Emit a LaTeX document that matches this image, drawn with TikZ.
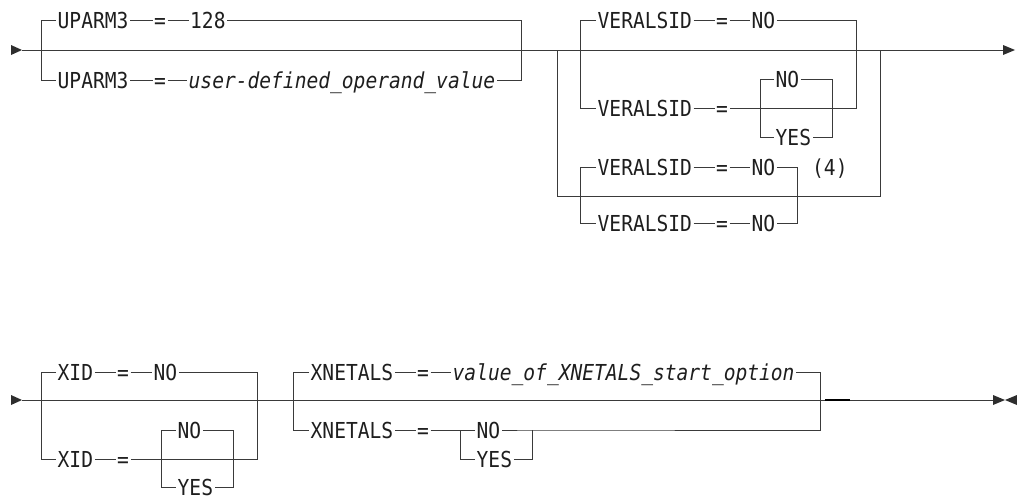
\documentclass[tikz,border=0pt]{standalone}
\usepackage{fontspec}
\newfontfamily\dmono[FakeStretch=0.89]{DejaVu Sans Mono}
\definecolor{ln}{RGB}{58,58,58}
\definecolor{txt}{RGB}{30,30,30}
\tikzset{
  lbl/.style={font=\dmono\fontsize{22}{24}\selectfont, inner xsep=1.5pt, inner ysep=0pt,
    text height=16pt, text depth=0pt, anchor=west, text=txt},
  ital/.style={lbl, font=\dmono\itshape\fontsize{22}{24}\selectfont},
  rail/.style={draw=ln, line width=0.85pt},
  tipfill/.style={fill=ln!80!black}
}
\begin{document}
\begin{tikzpicture}[x=1pt,y=-1pt]
\useasboundingbox (0,0) rectangle (1017,498);

% ---------------- Row 1 ----------------
\coordinate (s1) at (22,50);
\coordinate (e1) at (1003,50);
\fill[tipfill] (11,45) -- (s1) -- (11,55) -- cycle;
\fill[tipfill] (e1) ++(0,-5) -- (1015,50) -- (1003,55) -- cycle;
\draw[rail] (s1) -- (e1);

% UPARM3 group
\node[lbl]  (ua1) at (56,20) {UPARM3};
\node[lbl]  (ua2) at (152.5,20) {=};
\node[lbl]  (ua3) at (188.5,20) {128};
\node[lbl]  (ub1) at (56,80) {UPARM3};
\node[lbl]  (ub2) at (152.5,80) {=};
\node[ital] (ub3) at (187,80) {user-defined\_operand\_value};
\draw[rail] (ua1.west) -- (41,20) -- (41,80) -- (ub1.west);
\draw[rail] (ua1.east) -- (ua2.west) (ua2.east) -- (ua3.west);
\draw[rail] (ub1.east) -- (ub2.west) (ub2.east) -- (ub3.west);
\draw[rail] (ua3.east) -- (521,20) -- (521,80) -- (ub3.east);

% outer box (alternative path)
\coordinate (bx1) at (557,50);
\coordinate (bx2) at (880,50);
\draw[rail] (bx1) -- (557,196) -- (880,196) -- (bx2);

% VERALSID group 1
\node[lbl] (va1) at (596,20) {VERALSID};
\node[lbl] (va2) at (714.5,20) {=};
\node[lbl] (va3) at (750,20) {NO};
\node[lbl] (vb1) at (596,108) {VERALSID};
\node[lbl] (vb2) at (714.5,108) {=};
\node[lbl] (vn1) at (774,79) {NO};
\node[lbl] (vn2) at (774,137) {YES};
\draw[rail] (va1.west) -- (580,20) -- (580,108) -- (vb1.west);
\draw[rail] (va1.east) -- (va2.west) (va2.east) -- (va3.west);
\draw[rail] (vb1.east) -- (vb2.west);
\draw[rail] (va3.east) -- (856,20) -- (856,108) -- (vb2.east);
\draw[rail] (vn1.west) -- (760,79) -- (760,137) -- (vn2.west);
\draw[rail] (vn1.east) -- (832,79) -- (832,137) -- (vn2.east);

% VERALSID group 2
\node[lbl] (vc1) at (596,167) {VERALSID};
\node[lbl] (vc2) at (714.5,167) {=};
\node[lbl] (vc3) at (750,167) {NO};
\node[lbl] (vfn) at (810.5,167) {(4)};
\node[lbl] (vd1) at (596,223) {VERALSID};
\node[lbl] (vd2) at (714.5,223) {=};
\node[lbl] (vd3) at (750,223) {NO};
\draw[rail] (vc1.west) -- (580,167) -- (580,223) -- (vd1.west);
\draw[rail] (vc1.east) -- (vc2.west) (vc2.east) -- (vc3.west);
\draw[rail] (vd1.east) -- (vd2.west) (vd2.east) -- (vd3.west);
\draw[rail] (vc3.east) -- (797,167) -- (797,223) -- (vd3.east);

% ---------------- Row 2 ----------------
\coordinate (s2) at (22,400);
\coordinate (e2) at (993,400);
\fill[tipfill] (11,395) -- (s2) -- (11,405) -- cycle;
\fill[tipfill] (993,395) -- (1005,400) -- (993,405) -- cycle;
\fill[tipfill] (1017,395) -- (1005,400) -- (1017,405) -- cycle;
\draw[rail] (s2) -- (e2);
\draw[draw=black, line width=1.5pt] (825,400) -- (850,400);

% XID group
\node[lbl] (xa1) at (56,372) {XID};
\node[lbl] (xa2) at (115.5,372) {=};
\node[lbl] (xa3) at (152,372) {NO};
\node[lbl] (xb1) at (56,459) {XID};
\node[lbl] (xb2) at (115.5,459) {=};
\node[lbl] (xn1) at (176,430) {NO};
\node[lbl] (xn2) at (176,487) {YES};
\draw[rail] (xa1.west) -- (41,372) -- (41,459) -- (xb1.west);
\draw[rail] (xa1.east) -- (xa2.west) (xa2.east) -- (xa3.west);
\draw[rail] (xb1.east) -- (xb2.west);
\draw[rail] (xa3.east) -- (257,372) -- (257,459) -- (xb2.east);
\draw[rail] (xn1.west) -- (161,430) -- (161,487) -- (xn2.west);
\draw[rail] (xn1.east) -- (233,430) -- (233,487) -- (xn2.east);

% XNETALS group
\node[lbl]  (xc1) at (309,372) {XNETALS};
\node[lbl]  (xc2) at (415.5,372) {=};
\node[ital] (xc3) at (451,372) {value\_of\_XNETALS\_start\_option};
\node[lbl]  (xd1) at (309,430) {XNETALS};
\node[lbl]  (xd2) at (415.5,430) {=};
\node[lbl]  (xm1) at (475,430) {NO};
\node[lbl]  (xm2) at (475,459) {YES};
\draw[rail] (xc1.west) -- (293,372) -- (293,430) -- (xd1.west);
\draw[rail] (xc1.east) -- (xc2.west) (xc2.east) -- (xc3.west);
\draw[rail] (xd1.east) -- (xd2.west) (xd2.east) -- (xm1.west);
\draw[rail] (xc3.east) -- (820,372) -- (820,430) -- (532,430) -- (xm1.east);
\draw[rail] (xm1.west) -- (460,430) -- (460,459) -- (xm2.west);
\draw[rail] (xm2.east) -- (532,459) -- (532,430);
\end{tikzpicture}
\end{document}
